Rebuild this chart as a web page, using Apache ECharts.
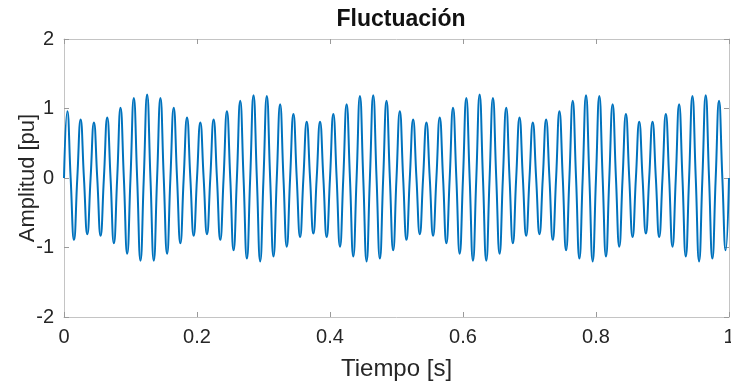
<!DOCTYPE html>
<html>
<head>
<meta charset="utf-8">
<script src="https://cdn.jsdelivr.net/npm/echarts@6/dist/echarts.min.js"></script>
<style>
html,body{margin:0;padding:0;background:#fff;}
#chart{width:731px;height:383px;}
</style>
</head>
<body>
<div id="chart"></div>
<script>
// Chart text
var titleText = 'Fluctuación';
var xAxisName = 'Tiempo [s]';
var yAxisName = 'Amplitud [pu]';

// Axis ticks
var xTicks = [0, 0.2, 0.4, 0.6, 0.8, 1];
var yTicks = [-2, -1, 0, 1, 2];

// Sampling grid of the read-off signal: one sample every quarter cycle (s)
var sampleStep = 0.005;

// Signal values at each quarter cycle
// (zero crossings, peaks and troughs), in pu
var amplitudeSamples = [
  0,0.96,0,-0.89, 0,0.84,0,-0.81, 0,0.80,0,-0.83, 0,0.87,0,-0.94, 0,1.01,0,-1.09,
  0,1.15,0,-1.19, 0,1.20,0,-1.19, 0,1.15,0,-1.09, 0,1.01,0,-0.94, 0,0.87,0,-0.83,
  0,0.80,0,-0.81, 0,0.84,0,-0.89, 0,0.96,0,-1.04, 0,1.11,0,-1.16, 0,1.19,0,-1.20,
  0,1.18,0,-1.13, 0,1.06,0,-0.99, 0,0.92,0,-0.85, 0,0.81,0,-0.80, 0,0.81,0,-0.85,
  0,0.92,0,-0.99, 0,1.06,0,-1.13, 0,1.18,0,-1.20, 0,1.19,0,-1.16, 0,1.11,0,-1.04,
  0,0.96,0,-0.89, 0,0.84,0,-0.81, 0,0.80,0,-0.83, 0,0.87,0,-0.94, 0,1.01,0,-1.09,
  0,1.15,0,-1.19, 0,1.20,0,-1.19, 0,1.15,0,-1.09, 0,1.01,0,-0.94, 0,0.87,0,-0.83,
  0,0.80,0,-0.81, 0,0.84,0,-0.89, 0,0.96,0,-1.04, 0,1.11,0,-1.16, 0,1.19,0,-1.20,
  0,1.18,0,-1.13, 0,1.06,0,-0.99, 0,0.92,0,-0.85, 0,0.81,0,-0.80, 0,0.81,0,-0.85,
  0,0.92,0,-0.99, 0,1.06,0,-1.13, 0,1.18,0,-1.20, 0,1.19,0,-1.16, 0,1.11,0,-1.04,
  0
];

var seriesData = amplitudeSamples.map(function (v, i) {
  return [+(i * sampleStep).toFixed(4), v];
});

var textColor = '#262626';
var boxColor = '#c4c4c4';
var font = '"Liberation Sans", Arial, Helvetica, sans-serif';

function xAxisCfg(pos, labels) {
  return {
    type: 'value', position: pos,
    min: xTicks[0], max: xTicks[xTicks.length - 1],
    interval: xTicks[1] - xTicks[0],
    axisLine: { show: true, onZero: false, lineStyle: { color: boxColor, width: 1 } },
    axisTick: { show: true, inside: true, length: 5, lineStyle: { color: '#9a9a9a' } },
    axisLabel: { show: labels, color: textColor, fontSize: 20, fontFamily: font, margin: 10 },
    splitLine: { show: false },
    name: labels ? xAxisName : '',
    nameLocation: 'middle', nameGap: 40, nameMoveOverlap: false,
    nameTextStyle: { color: textColor, fontSize: 24, fontFamily: font }
  };
}
function yAxisCfg(pos, labels) {
  return {
    type: 'value', position: pos,
    min: yTicks[0], max: yTicks[yTicks.length - 1],
    interval: yTicks[1] - yTicks[0],
    axisLine: { show: true, onZero: false, lineStyle: { color: boxColor, width: 1 } },
    axisTick: { show: true, inside: true, length: 5, lineStyle: { color: '#9a9a9a' } },
    axisLabel: { show: labels, color: textColor, fontSize: 20, fontFamily: font, margin: 10 },
    splitLine: { show: false },
    name: labels ? yAxisName : '',
    nameLocation: 'middle', nameGap: 25, nameMoveOverlap: false,
    nameTextStyle: { color: textColor, fontSize: 22, fontFamily: font }
  };
}

var chart = echarts.init(document.getElementById('chart'), null, { renderer: 'canvas' });
chart.setOption({
  animation: false,
  backgroundColor: '#ffffff',
  title: {
    text: titleText,
    left: 396, top: 3,
    textAlign: 'center',
    textStyle: { color: '#111111', fontSize: 23, fontWeight: 'bold', fontFamily: font }
  },
  grid: { left: 64, right: 2, top: 39, bottom: 66, containLabel: false, outerBoundsMode: 'none' },
  xAxis: [xAxisCfg('bottom', true), xAxisCfg('top', false)],
  yAxis: [yAxisCfg('left', true), yAxisCfg('right', false)],
  series: [{
    type: 'line',
    xAxisIndex: 0, yAxisIndex: 0,
    data: seriesData,
    showSymbol: false,
    smooth: 0.5,
    lineStyle: { color: '#0072BD', width: 2 },
    clip: true
  }]
});
</script>
</body>
</html>
